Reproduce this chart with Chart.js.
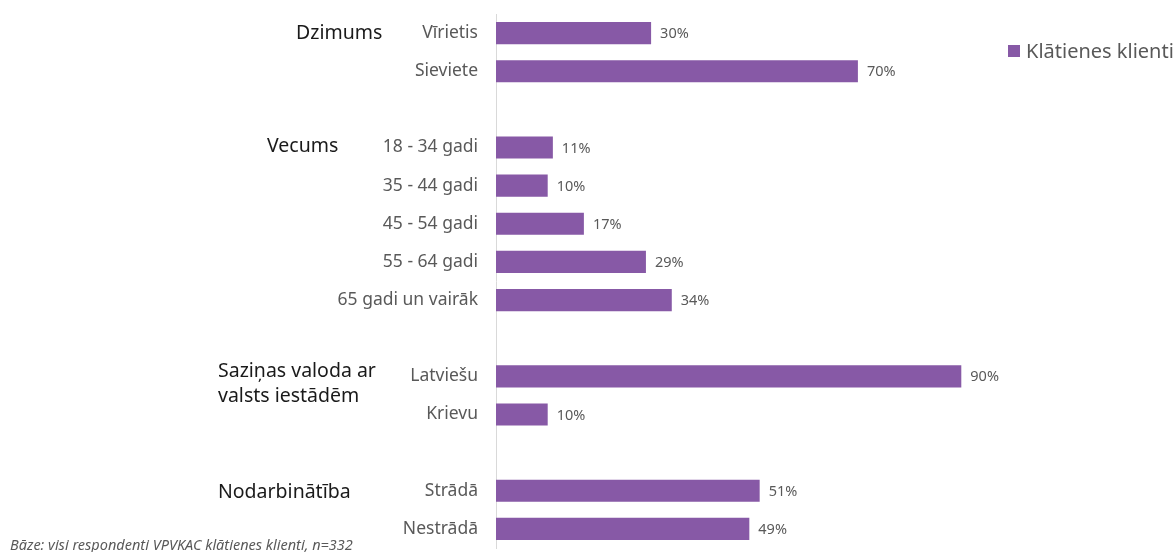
<!DOCTYPE html>
<html lang="lv">
<head>
<meta charset="utf-8">
<title>Klātienes klienti</title>
<script src="https://cdn.jsdelivr.net/npm/chart.js@4/dist/chart.umd.min.js"></script>
<style>
    html, body { margin: 0; padding: 0; background: #fff; }
    #wrap { position: relative; width: 1174px; height: 552px; font-family: 'Noto Sans', sans-serif; }
    #legend { position: absolute; left: 1008px; top: 37px; color: #595959; font-size: 20px; white-space: nowrap; display: flex; align-items: center; }
    #legend .box { width: 12px; height: 12px; background: #8759a6; margin-right: 6px; }
    #note { position: absolute; left: 10px; top: 534px; color: #595959; font-size: 14.5px; font-style: italic; white-space: nowrap; }
</style>
</head>
<body>
<div id="wrap">
    <canvas id="chart" width="1174" height="552"></canvas>
    <div id="legend"></div>
    <div id="note"></div>
</div>
<script>
const seriesName = 'Klātienes klienti';
const categories = ['Vīrietis', 'Sieviete', '', '18 - 34 gadi', '35 - 44 gadi', '45 - 54 gadi', '55 - 64 gadi', '65 gadi un vairāk', '', 'Latviešu', 'Krievu', '', 'Strādā', 'Nestrādā'];
const values = [30, 70, null, 11, 10, 17, 29, 34, null, 90, 10, null, 51, 49];
const groupTitles = [['Dzimums'], ['Vecums'], ['Saziņas valoda ar', 'valsts iestādēm'], ['Nodarbinātība']];
const groupRows = [0, 3, 9, 12];
const footnote = 'Bāze: visi respondenti VPVKAC klātienes klienti, n=332';

const BAR = '#8759a6';
const GREY = '#595959';

document.getElementById('legend').innerHTML = '<span class="box"></span>' + seriesName;
document.getElementById('note').textContent = footnote;

// headings on the left + value labels after the bars
const headingX = [296, 267, 218, 218];
const headingDy = [0, -1, -5, 2];

const extras = {
    id: 'extras',
    afterDatasetsDraw(chart) {
        const ctx = chart.ctx;
        const y = chart.scales.y;
        ctx.save();
        ctx.textBaseline = 'middle';

        ctx.fillStyle = GREY;
        ctx.font = '14.5px "Noto Sans"';
        ctx.textAlign = 'left';
        chart.getDatasetMeta(0).data.forEach((bar, i) => {
            if (values[i] == null) return;
            ctx.fillText(values[i] + '%', bar.x + 9, bar.y + 1);
        });

        ctx.fillStyle = '#1a1a1a';
        ctx.font = '19.5px "Noto Sans"';
        groupTitles.forEach((lines, g) => {
            const base = y.getPixelForValue(groupRows[g]) + headingDy[g];
            lines.forEach((t, k) => ctx.fillText(t, headingX[g], base + k * 25));
        });
        ctx.restore();
    }
};

new Chart(document.getElementById('chart'), {
    type: 'bar',
    data: {
        labels: categories,
        datasets: [{
            label: seriesName,
            data: values,
            backgroundColor: BAR,
            barPercentage: 0.58,
            categoryPercentage: 1
        }]
    },
    options: {
        indexAxis: 'y',
        responsive: false,
        animation: false,
        layout: { padding: { top: 14, bottom: 4, left: 0, right: 161 } },
        plugins: { legend: { display: false }, tooltip: { enabled: false } },
        scales: {
            x: { display: false, min: 0, max: 100 },
            y: {
                afterFit: s => { s.width = 496; s.paddingTop = 0; s.paddingBottom = 0; },
                grid: { display: false, drawTicks: false },
                border: { color: '#d9d9d9', width: 1 },
                ticks: { color: GREY, padding: 18, font: { family: 'Noto Sans', size: 17.5 } }
            }
        }
    },
    plugins: [extras]
});
</script>
</body>
</html>
